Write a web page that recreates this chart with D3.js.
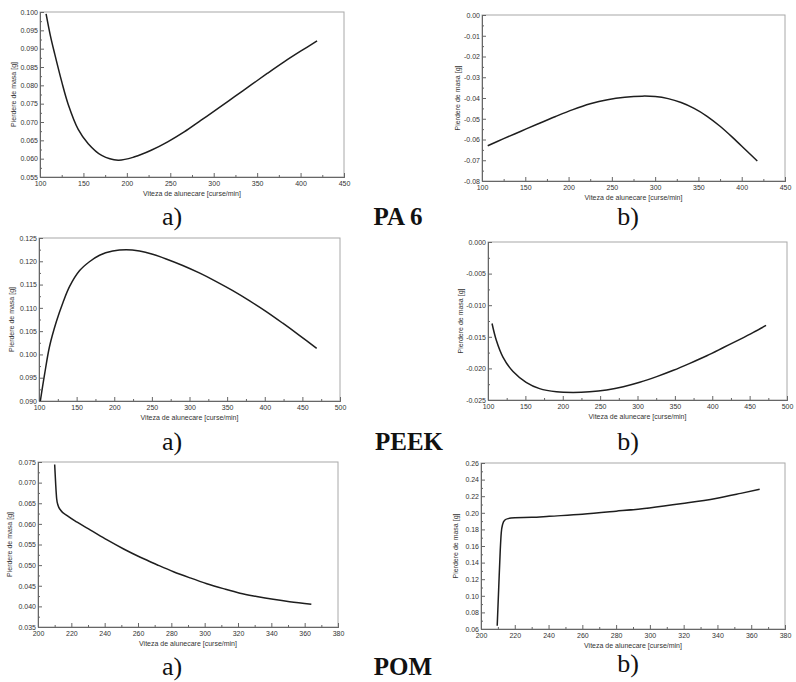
<!DOCTYPE html>
<html><head><meta charset="utf-8">
<script src="https://cdn.jsdelivr.net/npm/d3@7/dist/d3.min.js"></script>
<style>
body{margin:0;background:#fff}
svg{display:block}
.tk text{font-family:"Liberation Sans",Arial,sans-serif;font-size:7px;fill:#333}
</style>
</head><body>
<svg id="c" width="796" height="682"></svg>
<script>
// ---------- DATA ----------
// PA 6 a)
const pa6aX = [107,112,117,125,132.5,144,155.5,171,190,209,228,247,266,285.5,305,324,343,362,381,400,419];
const pa6aY = [0.0995,0.0935,0.0885,0.0810,0.0748,0.0680,0.0641,0.0609,0.0596,0.0605,0.0623,0.0646,0.0673,0.0705,0.0737,0.0769,0.0801,0.0833,0.0864,0.0893,0.0921];
// PA 6 b)
const pa6bX = [106.6,125,145,165,185,205,225,245,265,285,300,315,330,345,360,375,390,405,418];
const pa6bY = [-0.0630,-0.0596,-0.0560,-0.0524,-0.0489,-0.0456,-0.0428,-0.0408,-0.0396,-0.0391,-0.0393,-0.0403,-0.0422,-0.0450,-0.0488,-0.0536,-0.0592,-0.0652,-0.0704];
// PEEK a)
const peekaX = [101.8,107.5,114,123,132,140.7,154,167,180.5,198,216,233.6,251,269,291,313,335,357.5,380,402,424,446,469];
const peekaY = [0.0900,0.0958,0.1017,0.1070,0.1112,0.1146,0.1180,0.1199,0.1213,0.1222,0.1225,0.1222,0.1215,0.1205,0.1191,0.1175,0.1157,0.1137,0.1115,0.1092,0.1067,0.1041,0.1013];
// PEEK b)
const peekbX = [105.4,111,120,133.5,151,169,191.6,214,236,258.7,281,303,325.7,348,370,392.7,415,437,455,472];
const peekbY = [-0.0129,-0.0155,-0.0182,-0.0205,-0.0222,-0.0232,-0.0237,-0.0238,-0.0237,-0.0234,-0.0229,-0.0222,-0.0213,-0.0203,-0.0192,-0.0180,-0.0167,-0.0154,-0.0143,-0.0132];
// POM a)
const pomaX = [210,210.6,211.2,212,213.6,217.5,223.5,231.5,241.5,251.4,261.4,271.4,281.3,291.3,301.3,311.2,321.2,331.2,341.1,351,364];
const pomaY = [0.0744,0.0697,0.0661,0.0645,0.0633,0.0620,0.0604,0.0585,0.0561,0.0539,0.0519,0.0501,0.0484,0.0469,0.0455,0.0443,0.0432,0.0424,0.0417,0.0411,0.0405];
// POM b)
const pombX = [209.6,210.5,211.4,212.0,212.8,214,216,220,230,240.4,260,280,299.6,319.3,339,353.8,365];
const pombY = [0.064,0.110,0.155,0.176,0.186,0.191,0.193,0.194,0.1945,0.1958,0.1982,0.2019,0.2059,0.2112,0.2173,0.2234,0.2283];

// tick labels
const xTicksA = [100,150,200,250,300,350,400,450];
const xTicksB = [100,150,200,250,300,350,400,450,500];
const xTicksC = [200,220,240,260,280,300,320,340,360,380];
const yTicksPA6a = [0.055,0.060,0.065,0.070,0.075,0.080,0.085,0.090,0.095,0.100];
const yTicksPA6b = [-0.08,-0.07,-0.06,-0.05,-0.04,-0.03,-0.02,-0.01,0.00];
const yTicksPEEKa = [0.090,0.095,0.100,0.105,0.110,0.115,0.120,0.125];
const yTicksPEEKb = [-0.025,-0.020,-0.015,-0.010,-0.005,0.000];
const yTicksPOMa = [0.035,0.040,0.045,0.050,0.055,0.060,0.065,0.070,0.075];
const yTicksPOMb = [0.06,0.08,0.10,0.12,0.14,0.16,0.18,0.20,0.22,0.24,0.26];

const xTitle = "Viteza de alunecare [curse/min]";
const yTitle = "Pierdere de masa [g]";
const subLabels = ["a)","b)"];
const materials = ["PA 6","PEEK","POM"];

// ---------- DRAW ----------
const svg = d3.select("#c");

function panel(o){
  const x = d3.scaleLinear().domain([o.xt[0], o.xt[o.xt.length-1]]).range([o.l,o.r]);
  const y = d3.scaleLinear().domain([o.yt[0], o.yt[o.yt.length-1]]).range([o.b,o.t]);
  const g = svg.append("g");
  g.append("rect").attr("x",o.l).attr("y",o.t).attr("width",o.r-o.l).attr("height",o.b-o.t)
    .attr("fill","none").attr("stroke","#a8a8a8").attr("stroke-width",1);
  const fy = d => (d<0?"-":"") + Math.abs(d).toFixed(o.dec);
  const xm=[], ym=[];
  for(let i=0;i<o.xt.length-1;i++) xm.push((o.xt[i]+o.xt[i+1])/2);
  for(let i=0;i<o.yt.length-1;i++) ym.push((o.yt[i]+o.yt[i+1])/2);
  g.append("g").attr("class","tk").attr("transform",`translate(0,${o.b})`)
    .call(d3.axisBottom(x).tickValues(o.xt).tickSize(-4).tickPadding(4).tickFormat(d=>String(d)));
  g.append("g").attr("class","tk").attr("transform",`translate(0,${o.b})`)
    .call(d3.axisBottom(x).tickValues(xm).tickSize(-2).tickFormat(""));
  g.append("g").attr("class","tk").attr("transform",`translate(${o.l},0)`)
    .call(d3.axisLeft(y).tickValues(o.yt).tickSize(-4).tickPadding(2).tickFormat(fy));
  g.append("g").attr("class","tk").attr("transform",`translate(${o.l},0)`)
    .call(d3.axisLeft(y).tickValues(ym).tickSize(-2).tickFormat(""));
  g.selectAll(".tk .domain").attr("stroke","#666").attr("stroke-width",1);
  g.selectAll(".tk line").attr("stroke","#666");
  const pts = o.xs.map((v,i)=>[v,o.ys[i]]);
  g.append("path").datum(pts)
    .attr("d", d3.line().x(d=>x(d[0])).y(d=>y(d[1])).curve(o.curve))
    .attr("fill","none").attr("stroke","#1e1e1e").attr("stroke-width",1.5);
  g.append("text").attr("x",(o.l+o.r)/2).attr("y",o.b+19).attr("text-anchor","middle")
    .style("font-family","Liberation Sans, Arial, sans-serif").style("font-size","7px").attr("fill","#333")
    .text(xTitle);
  g.append("text").attr("transform",`translate(${o.l-o.yo},${(o.t+o.b)/2}) rotate(-90)`)
    .attr("text-anchor","middle")
    .style("font-family","Liberation Sans, Arial, sans-serif").style("font-size","7px").attr("fill","#333")
    .text(yTitle);
}

const smooth = d3.curveCatmullRom.alpha(0.5);
const mono = d3.curveMonotoneX;
panel({l:40,r:344,t:12,b:177, xt:xTicksA, yt:yTicksPA6a, dec:3, xs:pa6aX, ys:pa6aY, yo:24, curve:smooth});
panel({l:482,r:785,t:15,b:181, xt:xTicksA, yt:yTicksPA6b, dec:2, xs:pa6bX, ys:pa6bY, yo:22, curve:smooth});
panel({l:39,r:340,t:238,b:401, xt:xTicksB, yt:yTicksPEEKa, dec:3, xs:peekaX, ys:peekaY, yo:25, curve:smooth});
panel({l:488,r:787,t:242,b:400, xt:xTicksB, yt:yTicksPEEKb, dec:3, xs:peekbX, ys:peekbY, yo:25, curve:smooth});
panel({l:38,r:338,t:462,b:627, xt:xTicksC, yt:yTicksPOMa, dec:3, xs:pomaX, ys:pomaY, yo:26, curve:mono});
panel({l:481,r:785,t:463,b:629, xt:xTicksC, yt:yTicksPOMb, dec:2, xs:pombX, ys:pombY, yo:23, curve:mono});

const rowBase = [225, 450, 675];
const rowBaseB = [225, 450, 672];
const matX = [398, 409, 403];
rowBase.forEach((yb,i)=>{
  svg.append("text").attr("x",172).attr("y",yb).attr("text-anchor","middle")
    .style("font-family","Liberation Serif, Times New Roman, serif").style("font-size","26px").attr("fill","#111")
    .text(subLabels[0]);
  svg.append("text").attr("x",628).attr("y",rowBaseB[i]).attr("text-anchor","middle")
    .style("font-family","Liberation Serif, Times New Roman, serif").style("font-size","26px").attr("fill","#111")
    .text(subLabels[1]);
  svg.append("text").attr("x",matX[i]).attr("y",yb).attr("text-anchor","middle")
    .style("font-family","Liberation Serif, Times New Roman, serif").style("font-size","25px").style("font-weight","bold").attr("fill","#111")
    .text(materials[i]);
});
</script>
</body></html>
